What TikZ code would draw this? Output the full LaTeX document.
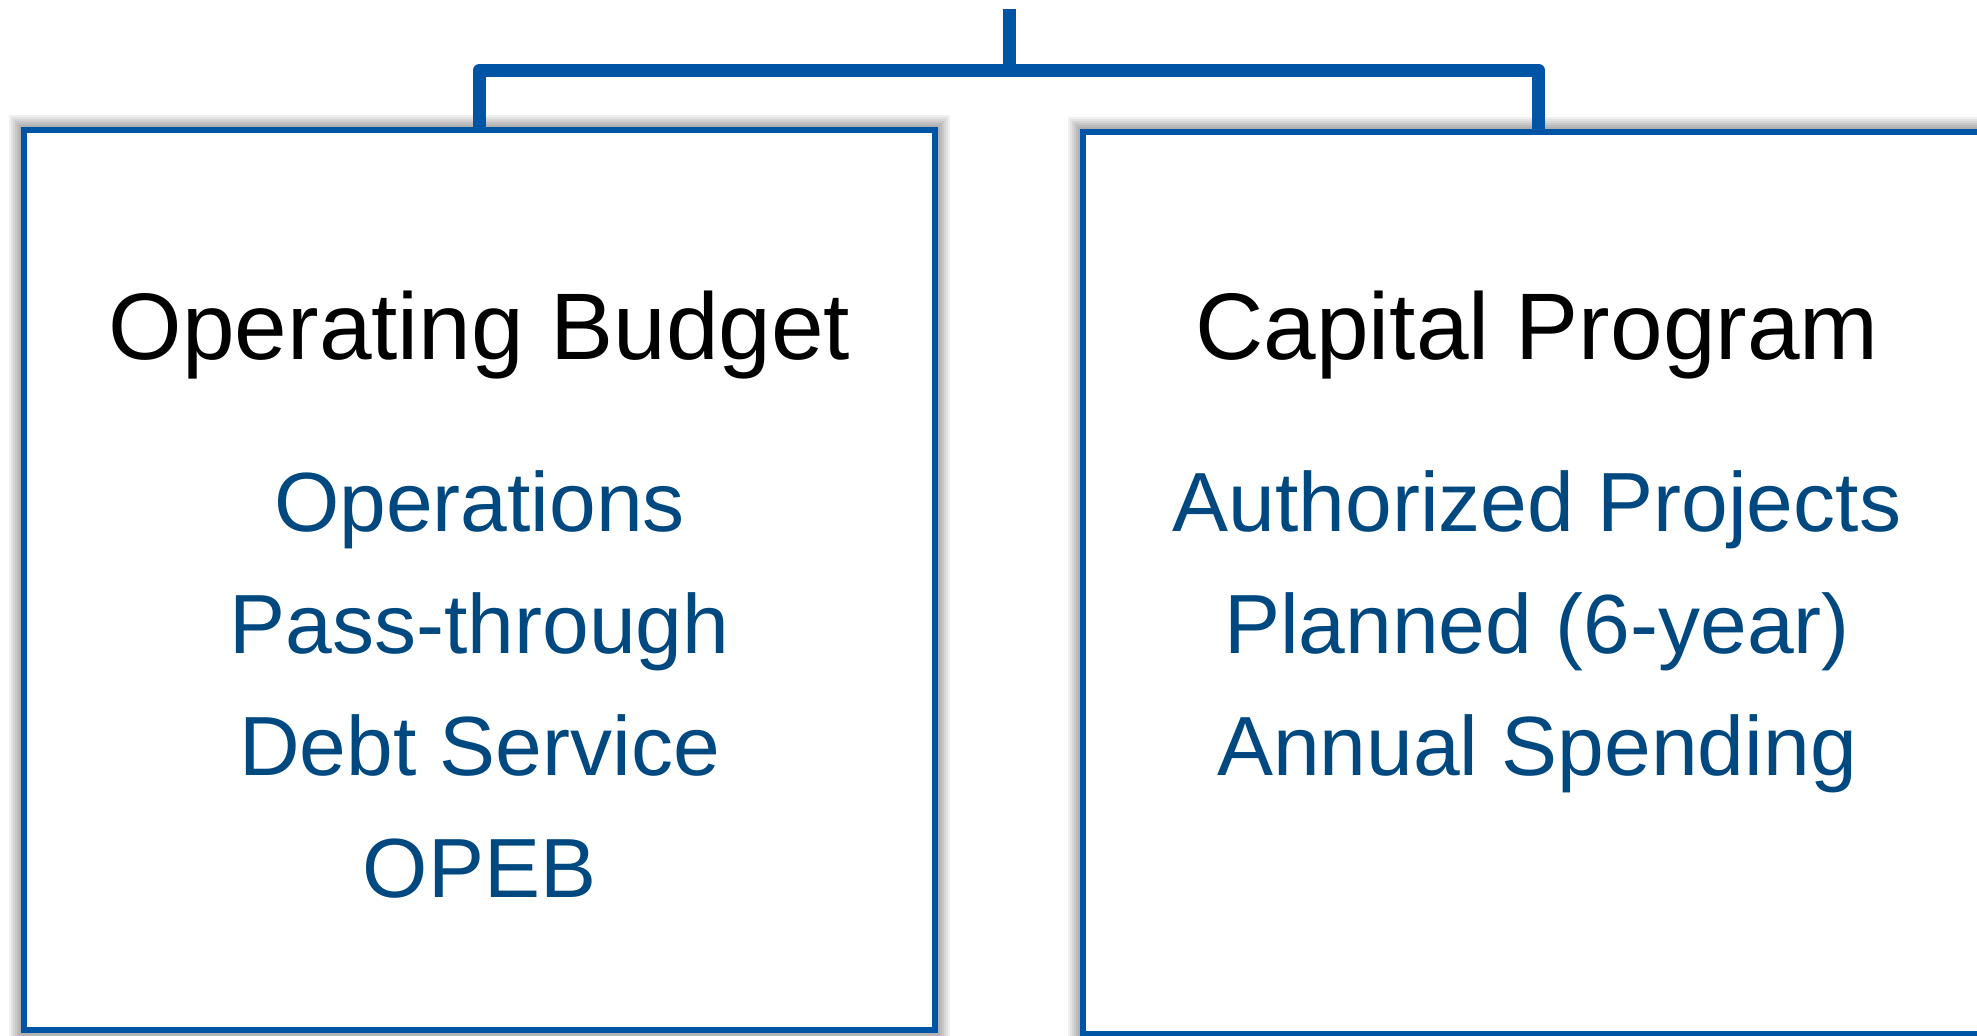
\documentclass[tikz,border=0pt]{standalone}
\usepackage{fontspec}
\setmainfont{Liberation Sans}
\definecolor{boxblue}{RGB}{0,84,166}
\definecolor{textblue}{RGB}{0,72,128}
\begin{document}
\begin{tikzpicture}[x=0.5pt,y=-0.5pt,
  box/.style={draw=boxblue, line width=3pt, fill=white, rectangle,
    minimum width=455.5pt, minimum height=450pt, inner sep=0pt},
  conn/.style={draw=boxblue, line width=6.5pt, line join=round},
  title/.style={anchor=base, text=black, inner sep=0pt, font=\fontsize{47.3}{57}\selectfont},
  item/.style={anchor=base, text=textblue, inner sep=0pt, font=\fontsize{42}{51}\selectfont}]
\useasboundingbox (0,0) rectangle (1977,1035);
% soft shadows
\foreach \d in {15,13,11,9,7,5,3} {
  \fill[black, opacity=0.06] (24-\d,130-\d) rectangle (935+\d,1030+\d);
  \fill[black, opacity=0.06] (1083-\d,132-\d) rectangle (1994+\d,1034+\d);
}
\node[box] (lbox) at (479.5,580) {};
\node[box, minimum height=451pt] (rbox) at (1538.5,583) {};
% connectors
\coordinate (top) at (1009,9);
\coordinate (bar) at (1009,70);
\draw[conn] (top) -- (bar);
\draw[conn] (lbox.north) -- (lbox.north |- bar) -- (rbox.north |- bar) -- (rbox.north);
% texts
\node[title] (t1) at (479.5,359) {Operating Budget};
\node[item] (l1) at (479.5,531) {Operations};
\node[item] (l2) at (479.5,653) {Pass-through};
\node[item] (l3) at (479.5,775) {Debt Service};
\node[item] (l4) at (479.5,897) {OPEB};
\node[title] (t2) at (1537,359) {Capital Program};
\node[item] (r1) at (1537,531) {Authorized Projects};
\node[item] (r2) at (1537,653) {Planned (6-year)};
\node[item] (r3) at (1537,775) {Annual Spending};
\end{tikzpicture}
\end{document}
